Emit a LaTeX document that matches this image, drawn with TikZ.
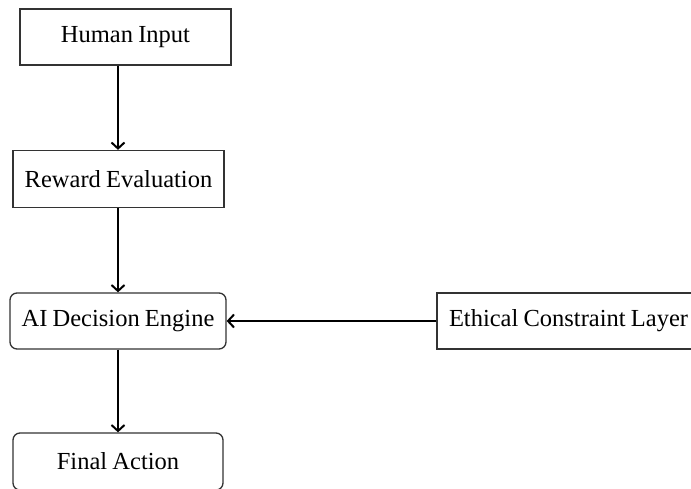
\documentclass[tikz,border=0pt]{standalone}
\usepackage{fontspec}
\setmainfont[WordSpace=0.85]{Liberation Serif}
\usetikzlibrary{arrows.meta}
\begin{document}
\begin{tikzpicture}[x=1pt,y=-1pt,
 box/.style={draw=black!80, line width=1.3pt, inner sep=0pt, font=\fontsize{24.5}{29}\selectfont},
 rbox/.style={box, rounded corners=7pt},
 flow/.style={line width=2.6pt, -{Straight Barb[length=6pt,width=13pt,line width=2pt]}}]
\useasboundingbox (0,0) rectangle (691,488);
\clip (0,0) rectangle (691,488);
\node[box, minimum width=211pt, minimum height=56pt] (hi) at (125.5,37) {Human Input};
\node[box, minimum width=211pt, minimum height=57pt] (re) at (118.5,179) {Reward Evaluation};
\node[rbox, minimum width=216pt, minimum height=56pt] (ai) at (118,321) {AI Decision Engine};
\node[box, minimum width=263pt, minimum height=56pt] (eth) at (568.5,321) {Ethical Constraint Layer};
\node[rbox, minimum width=210pt, minimum height=57pt] (fa) at (118,461.5) {Final Action};
\draw[flow] (hi.south -| ai.center) -- (re.north -| ai.center);
\draw[flow] (re.south -| ai.center) -- (ai.north);
\draw[flow] (ai.south) -- (fa.north);
\draw[flow] (eth.west) -- (ai.east);
\end{tikzpicture}
\end{document}
